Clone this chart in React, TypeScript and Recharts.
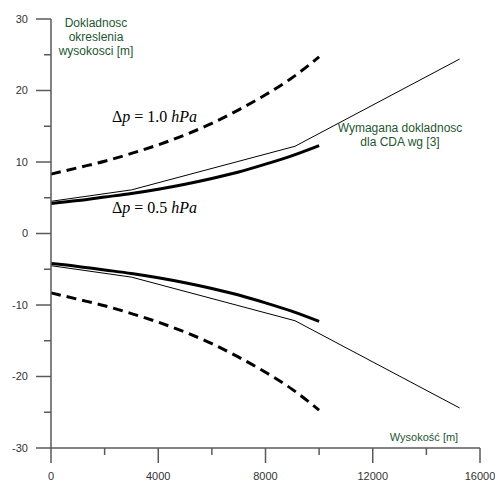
import React from 'react';
import { LineChart, Line, XAxis, YAxis } from 'recharts';

// altitude grid for the pressure-error curves [m]
const heights = [0, 1000, 2000, 3000, 4000, 5000, 6000, 7000, 8000, 9000, 10000];
// height error for dp = 0.5 hPa [m]
const error05 = [4.2, 4.6, 5.1, 5.6, 6.2, 6.9, 7.7, 8.6, 9.7, 10.9, 12.3];
// height error for dp = 1.0 hPa [m]
const error10 = [8.3, 9.2, 10.1, 11.2, 12.4, 13.8, 15.4, 17.3, 19.4, 21.8, 24.7];
// required accuracy for CDA
const requiredHeights = [0, 3000, 9100, 15240];
const requiredValues = [4.5, 6.1, 12.2, 24.4];

const xTicks = [0, 2000, 4000, 6000, 8000, 10000, 12000, 14000, 16000];
const yTicks = [-30, -25, -20, -15, -10, -5, 0, 5, 10, 15, 20, 25, 30];

const AXIS = '#5a5a5a';
const LABEL = '#333';
const GREEN = '#1e5631';
const SANS = "Arial, 'Liberation Sans', sans-serif";
const SERIF = "'Times New Roman', 'Liberation Serif', serif";

const toPoints = (xs: number[], ys: number[], sign: number) =>
  xs.map((h, i) => ({ h, v: sign * ys[i] }));

const series = [
  { key: 'dp10up', data: toPoints(heights, error10, 1), width: 3, dash: '10 6', type: 'monotone' },
  { key: 'dp10down', data: toPoints(heights, error10, -1), width: 3, dash: '10 6', type: 'monotone' },
  { key: 'dp05up', data: toPoints(heights, error05, 1), width: 3, dash: undefined, type: 'monotone' },
  { key: 'dp05down', data: toPoints(heights, error05, -1), width: 3, dash: undefined, type: 'monotone' },
  { key: 'reqUp', data: toPoints(requiredHeights, requiredValues, 1), width: 1, dash: undefined, type: 'linear' },
  { key: 'reqDown', data: toPoints(requiredHeights, requiredValues, -1), width: 1, dash: undefined, type: 'linear' },
];

function YTick({ x, y, payload }: any) {
  const major = payload.value % 10 === 0;
  return (
    <g>
      <line x1={x - (major ? 15 : 7)} x2={x} y1={y} y2={y} stroke={AXIS} strokeWidth={1.5} />
      {major && (
        <text x={x - 23} y={y} dy="0.35em" textAnchor="end" fontSize={11} fontFamily={SANS} fill={LABEL}>
          {payload.value}
        </text>
      )}
    </g>
  );
}

function XTick({ x, y, payload }: any) {
  const major = payload.value % 4000 === 0;
  return (
    <g>
      <line x1={x} x2={x} y1={y} y2={y + (major ? 15 : 7)} stroke={AXIS} strokeWidth={1.5} />
      {major && (
        <text x={x} y={y + 28} dy="0.35em" textAnchor="middle" fontSize={11} fontFamily={SANS} fill={LABEL}>
          {payload.value}
        </text>
      )}
    </g>
  );
}

const greenText: React.CSSProperties = {
  position: 'absolute',
  color: GREEN,
  fontFamily: SANS,
  fontSize: 12,
  lineHeight: '14px',
  textAlign: 'center',
  whiteSpace: 'nowrap',
  transform: 'translateX(-50%)',
};

const mathText: React.CSSProperties = {
  position: 'absolute',
  fontFamily: SERIF,
  fontSize: 16,
  lineHeight: '16px',
  whiteSpace: 'nowrap',
  color: '#000',
};

export default function App() {
  return (
    <div style={{ position: 'relative', width: 495, height: 481, background: '#fff' }}>
      <style>{'body{margin:0}'}</style>
      <LineChart width={495} height={481} margin={{ top: 19, right: 15, left: 0, bottom: 0 }}>
        <XAxis
          dataKey="h"
          type="number"
          domain={[0, 16000]}
          ticks={xTicks}
          interval={0}
          height={33}
          tickSize={0}
          tickMargin={0}
          tickLine={false}
          axisLine={{ stroke: AXIS, strokeWidth: 1.5 }}
          tick={<XTick />}
        />
        <YAxis
          type="number"
          domain={[-30, 30]}
          ticks={yTicks}
          interval={0}
          width={51}
          tickSize={0}
          tickMargin={0}
          tickLine={false}
          axisLine={{ stroke: AXIS, strokeWidth: 1.5 }}
          tick={<YTick />}
        />
        {series.map((s) => (
          <Line
            key={s.key}
            data={s.data}
            dataKey="v"
            type={s.type as any}
            stroke="#000"
            strokeWidth={s.width}
            strokeDasharray={s.dash}
            dot={false}
            activeDot={false}
            isAnimationActive={false}
          />
        ))}
      </LineChart>

      <div style={{ ...greenText, left: 96, top: 16 }}>
        Dokladnosc
        <br />
        okreslenia
        <br />
        wysokosci [m]
      </div>
      <div style={{ ...greenText, left: 400, top: 121 }}>
        Wymagana dokladnosc
        <br />
        dla CDA wg [3]
      </div>
      <div style={{ ...greenText, fontSize: 11, left: 424, top: 430 }}>Wysokość [m]</div>

      <div style={{ ...mathText, left: 112, top: 109 }}>
        Δ<i>p</i> = 1.0 <i>hPa</i>
      </div>
      <div style={{ ...mathText, left: 112, top: 200 }}>
        Δ<i>p</i> = 0.5 <i>hPa</i>
      </div>
    </div>
  );
}
